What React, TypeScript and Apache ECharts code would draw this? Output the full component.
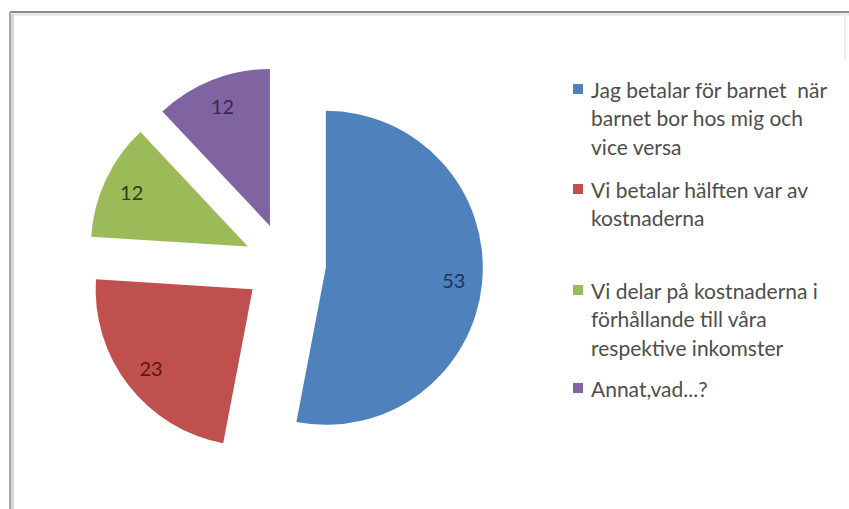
import React, { useEffect, useRef } from "react";
import * as echarts from "echarts";

const categories = [
  "Jag betalar för barnet  när barnet bor hos mig och vice versa",
  "Vi betalar hälften var av kostnaderna",
  "Vi delar på kostnaderna i förhållande till våra respektive inkomster",
  "Annat,vad...?",
];
const legendLines = [
  ["Jag betalar för barnet  när", "barnet bor hos mig och", "vice versa"],
  ["Vi betalar hälften var av", "kostnaderna"],
  ["Vi delar på kostnaderna i", "förhållande till våra", "respektive inkomster"],
  ["Annat,vad...?"],
];
const values = [53, 23, 12, 12];
const sliceColors = ["#4f81bd", "#c0504d", "#9bbb59", "#8064a2"];
const labelColors = ["#1c355e", "#5c1614", "#2f4012", "#3a2656"];
const legendTops = [12.75, 141.25, 213.75, 368.75];

const FONT = "Lato, 'Open Sans', sans-serif";
const LH = 28.5;

export default function App() {
  const ref = useRef<HTMLDivElement>(null);
  useEffect(() => {
    if (!ref.current) return;
    const chart = echarts.init(ref.current, null, { renderer: "svg" });
    const mainData = categories.map((name, i) => ({
      name,
      value: values[i],
      selected: true,
      itemStyle: { color: sliceColors[i] },
    }));
    const labelData = categories.map((name, i) => ({
      name,
      value: values[i],
      selected: true,
      itemStyle: { color: "rgba(0,0,0,0)" },
      label: { color: labelColors[i] },
    }));
    const legends = categories.map((name, i) => ({
      orient: "vertical",
      left: 568,
      top: legendTops[i],
      itemWidth: 10,
      itemHeight: 10,
      icon: "rect",
      selectedMode: false,
      data: [name],
      formatter: () => {
        const lines = legendLines[i];
        const blanks = new Array(lines.length - 1).fill(" ");
        return [...blanks, ...lines].join("\n");
      },
      textStyle: {
        fontFamily: FONT,
        fontSize: 21,
        color: "#4d4d4d",
        lineHeight: LH,
        padding: [0, 0, 0, 3],
      },
    }));
    chart.setOption({
      animation: false,
      backgroundColor: "#ffffff",
      legend: legends,
      graphic: [
        { type: "line", shape: { x1: 10, y1: 12, x2: 849, y2: 12 }, style: { stroke: "#8c8c8c", lineWidth: 2 } },
        { type: "line", shape: { x1: 12, y1: 14.5, x2: 849, y2: 14.5 }, style: { stroke: "#e2e2e2", lineWidth: 2 } },
        { type: "line", shape: { x1: 10, y1: 12, x2: 10, y2: 509 }, style: { stroke: "#a6a6a6", lineWidth: 2 } },
        { type: "line", shape: { x1: 12.5, y1: 14, x2: 12.5, y2: 509 }, style: { stroke: "#d6d6d6", lineWidth: 3 } },
        { type: "line", shape: { x1: 845, y1: 14, x2: 845, y2: 60 }, style: { stroke: "#f0f0f0", lineWidth: 2 } },
      ],
      series: [
        {
          type: "pie",
          center: [285, 264],
          radius: [0, 157],
          startAngle: 90,
          clockwise: true,
          selectedMode: "multiple",
          selectedOffset: 41,
          silent: true,
          label: { show: false },
          labelLine: { show: false },
          emphasis: { disabled: true },
          data: mainData,
        },
        {
          type: "pie",
          center: [285, 264],
          radius: [94, 157],
          startAngle: 90,
          clockwise: true,
          selectedMode: "multiple",
          selectedOffset: 41,
          silent: true,
          avoidLabelOverlap: false,
          label: {
            show: true,
            position: "inside",
            formatter: "{c}",
            fontFamily: FONT,
            fontSize: 20,
            padding: [10, 0, 0, 0],
          },
          labelLine: { show: false },
          emphasis: { disabled: true },
          data: labelData,
        },
      ],
    });
    return () => chart.dispose();
  }, []);
  return (
    <div
      ref={ref}
      style={{ position: "fixed", left: 0, top: 0, width: 849, height: 509 }}
    />
  );
}
